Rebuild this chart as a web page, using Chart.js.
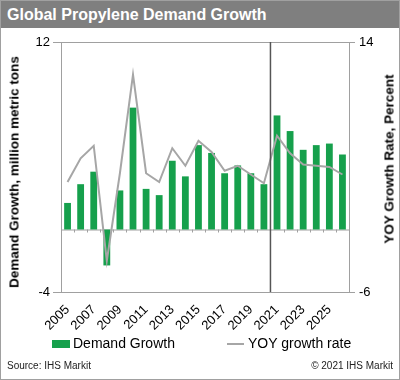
<!DOCTYPE html>
<html>
<head>
<meta charset="utf-8">
<script src="https://cdn.jsdelivr.net/npm/chart.js@4"></script>
<style>
  body { margin: 0; background: #fff; font-family: Arial, "Liberation Sans", sans-serif; }
  #wrap { position: relative; width: 400px; height: 380px; overflow: hidden; background: #fff; }
  #frame { position: absolute; left: 0; top: 0; width: 400px; height: 380px; box-sizing: border-box; border: 1px solid #a0a0a0; pointer-events: none; }
  #head { position: absolute; left: 0; top: 0; width: 400px; height: 28px; background: #7f7f7f; color: #fff;
          font-weight: bold; font-size: 16px; line-height: 29px; padding-left: 7px; box-sizing: border-box; }
  #box { position: absolute; left: 0; top: 28px; width: 400px; height: 312px; }
  .ytitle { position: absolute; font-weight: bold; font-size: 13.5px; color: #000; white-space: nowrap;
            transform: translate(-50%, -50%) rotate(-90deg); }
  #legend { position: absolute; top: 333px; left: 0; width: 400px; height: 20px; font-size: 14px; color: #000; }
  .lg { position: absolute; top: 0; line-height: 20px; }
  #foot { position: absolute; top: 360px; left: 7px; right: 7px; font-size: 10px; color: #222; }
</style>
</head>
<body>
<div id="wrap">
  <div id="head">Global Propylene Demand Growth</div>
  <div id="box"><canvas id="grafico" width="400" height="312"></canvas></div>
  <div class="ytitle" style="left:14px; top:172px;">Demand Growth, million metric tons</div>
  <div class="ytitle" style="left:389px; top:159px;">YOY Growth Rate, Percent</div>
  <div id="legend">
    <span style="position:absolute; left:52px; top:7px; width:18px; height:8px; background:#16a04c;"></span>
    <span class="lg" style="left:73px;">Demand Growth</span>
    <span style="position:absolute; left:227px; top:10px; width:17px; height:2px; background:#a6a6a6;"></span>
    <span class="lg" style="left:248px;">YOY growth rate</span>
  </div>
  <div id="foot"><span>Source: IHS Markit</span><span style="float:right;">© 2021 IHS Markit</span></div>
  <div id="frame"></div>
</div>
<script>
// datos
const years = ["2005","2006","2007","2008","2009","2010","2011","2012","2013","2014","2015",
               "2016","2017","2018","2019","2020","2021","2022","2023","2024","2025","2026"];
const demandGrowth = [1.7, 2.9, 3.7, -2.3, 2.5, 7.8, 2.6, 2.2, 4.4, 3.4, 5.4,
                      4.9, 3.6, 4.1, 3.6, 2.9, 7.3, 6.3, 5.1, 5.4, 5.5, 4.8];
const yoyGrowth = [2.8, 4.7, 5.7, -3.5, 3.5, 11.4, 3.5, 2.8, 5.5, 4.1, 6.1,
                   5.2, 3.7, 4.1, 3.4, 2.7, 6.5, 5.1, 4.2, 4.1, 4.0, 3.4];
const leftTicks = [-4, 12];
const rightTicks = [-6, 14];
const splitAfter = "2020";   // linea vertical entre historico y pronostico

const GREEN = "#16a04c";
const GRAY_LINE = "#a6a6a6";

// marco, linea cero y linea vertical
const framePlugin = {
  id: "framePlugin",
  beforeDatasetsDraw(chart) {
    const { ctx, chartArea: a, scales } = chart;
    const y0 = scales.y.getPixelForValue(0);
    ctx.save();
    ctx.strokeStyle = "#a0a0a0";
    ctx.lineWidth = 1;
    ctx.beginPath();
    ctx.moveTo(a.left, y0 + 0.5);
    ctx.lineTo(a.right, y0 + 0.5);
    // pequeñas marcas en la linea cero
    for (let i = 1; i < years.length; i++) {
      const x = Math.round((scales.x.getPixelForValue(i - 1) + scales.x.getPixelForValue(i)) / 2) + 0.5;
      ctx.moveTo(x, y0);
      ctx.lineTo(x, y0 + 3);
    }
    ctx.stroke();
    ctx.restore();
  },
  afterDatasetsDraw(chart) {
    const { ctx, chartArea: a, scales } = chart;
    ctx.save();
    ctx.strokeStyle = "#a0a0a0";
    ctx.lineWidth = 1;
    ctx.strokeRect(Math.round(a.left) + 0.5, Math.round(a.top) + 0.5,
                   Math.round(a.right - a.left), Math.round(a.bottom - a.top));
    const i = years.indexOf(splitAfter);
    const xs = (scales.x.getPixelForValue(i) + scales.x.getPixelForValue(i + 1)) / 2;
    ctx.strokeStyle = "#555";
    ctx.lineWidth = 1.5;
    ctx.beginPath();
    ctx.moveTo(xs, a.top);
    ctx.lineTo(xs, a.bottom);
    ctx.stroke();
    ctx.restore();
  }
};

const tickFont = { family: "Arial, 'Liberation Sans', sans-serif", size: 13 };

new Chart(document.getElementById("grafico").getContext("2d"), {
  data: {
    labels: years,
    datasets: [
      {
        type: "line",
        label: "YOY growth rate",
        data: yoyGrowth,
        yAxisID: "y2",
        borderColor: GRAY_LINE,
        borderWidth: 2,
        pointRadius: 0,
        tension: 0,
        order: 1
      },
      {
        type: "bar",
        label: "Demand Growth",
        data: demandGrowth,
        yAxisID: "y",
        backgroundColor: GREEN,
        barPercentage: 0.52,
        categoryPercentage: 1,
        order: 2
      }
    ]
  },
  options: {
    responsive: false,
    animation: false,
    layout: { padding: { top: 14, left: 0, right: 0, bottom: 0 } },
    plugins: { legend: { display: false }, tooltip: { enabled: false } },
    scales: {
      x: {
        grid: { display: false },
        border: { display: false },
        ticks: {
          autoSkip: false,
          maxRotation: 45,
          minRotation: 45,
          padding: 2,
          color: "#000",
          font: tickFont,
          callback: (v, i) => (i % 2 === 0 ? years[i] : "")
        },
        afterFit: s => { s.height = 48; }
      },
      y: {
        position: "left",
        min: -4,
        max: 12,
        afterBuildTicks: s => { s.ticks = leftTicks.map(v => ({ value: v })); },
        grid: { drawOnChartArea: false, tickLength: 8, color: "#a0a0a0" },
        border: { display: false },
        ticks: { color: "#000", font: tickFont, padding: 3 },
        afterFit: s => { s.width = 61; }
      },
      y2: {
        position: "right",
        min: -6,
        max: 14,
        afterBuildTicks: s => { s.ticks = rightTicks.map(v => ({ value: v })); },
        grid: { drawOnChartArea: false, tickLength: 6, color: "#a0a0a0" },
        border: { display: false },
        ticks: { color: "#000", font: tickFont, padding: 4 },
        afterFit: s => { s.width = 51; }
      }
    }
  },
  plugins: [framePlugin]
});
</script>
</body>
</html>
